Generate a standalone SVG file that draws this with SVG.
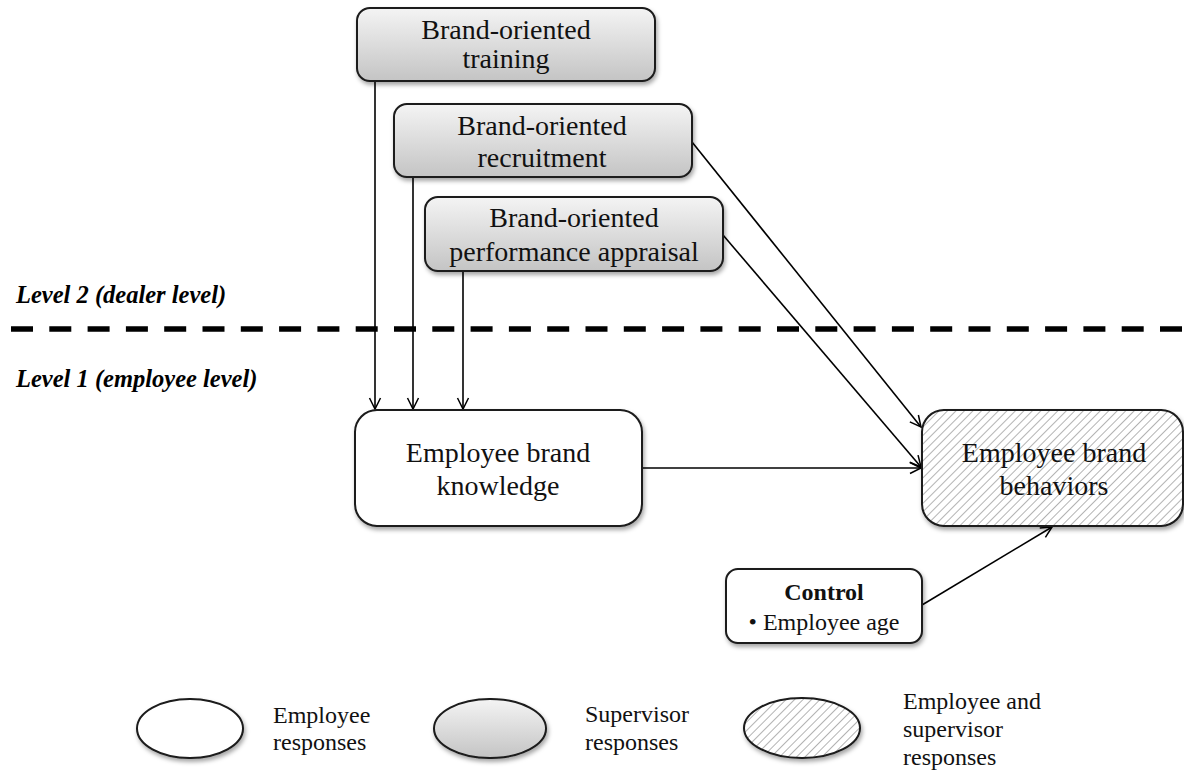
<svg xmlns="http://www.w3.org/2000/svg" width="1184" height="771" viewBox="0 0 1184 771">
  <defs>
    <linearGradient id="grayFill" x1="0" y1="0" x2="0" y2="1">
      <stop offset="0" stop-color="#f4f4f4"/>
      <stop offset="1" stop-color="#c4c4c4"/>
    </linearGradient>
    <pattern id="hatch" patternUnits="userSpaceOnUse" width="6" height="6" patternTransform="rotate(45)">
      <rect width="6" height="6" fill="#ffffff"/>
      <line x1="0" y1="0" x2="0" y2="6" stroke="#a0a0a0" stroke-width="1.6"/>
    </pattern>
    <filter id="shadow" x="-10%" y="-10%" width="125%" height="140%">
      <feDropShadow dx="1.5" dy="3" stdDeviation="2" flood-color="#000" flood-opacity="0.35"/>
    </filter>
    <marker id="arrow" markerUnits="userSpaceOnUse" markerWidth="14" markerHeight="14" viewBox="0 0 14 14" refX="12" refY="7" orient="auto">
      <path d="M1,1.5 L12,7 L1,12.5" fill="none" stroke="#000" stroke-width="1.5"/>
    </marker>
    <style>
      .box { stroke: #1a1a1a; stroke-width: 2; filter: url(#shadow); }
      .sup { fill: url(#grayFill); }
      .emp { fill: #ffffff; }
      .both { fill: url(#hatch); }
      .lbl { font-family: "Liberation Serif", "Times New Roman", serif; font-size: 28px; fill: #111; text-anchor: middle; }
      .ctl { font-family: "Liberation Serif", "Times New Roman", serif; font-size: 24px; fill: #111; text-anchor: middle; }
      .leg { font-family: "Liberation Serif", "Times New Roman", serif; font-size: 24px; fill: #111; }
      .lvl { font-family: "Liberation Serif", "Times New Roman", serif; font-size: 24.5px; font-weight: bold; font-style: italic; fill: #000; }
      .conn line { stroke: #000; stroke-width: 1.6; marker-end: url(#arrow); }
    </style>
  </defs>

  <rect width="1184" height="771" fill="#ffffff"/>

  <!-- level divider -->
  <g id="levels">
    <text class="lvl" x="16" y="303">Level 2 (dealer level)</text>
    <line x1="11" y1="329" x2="1184" y2="329" stroke="#000" stroke-width="5.5" stroke-dasharray="22 16.3"/>
    <text class="lvl" x="16" y="387">Level 1 (employee level)</text>
  </g>

  <!-- connectors -->
  <g id="connectors" class="conn">
    <line x1="375" y1="82" x2="375" y2="409"/>
    <line x1="413" y1="178" x2="413" y2="409"/>
    <line x1="463" y1="272" x2="463" y2="409"/>
    <line x1="692" y1="142" x2="921" y2="427"/>
    <line x1="723" y1="235" x2="921" y2="467"/>
    <line x1="642" y1="468" x2="921" y2="468"/>
    <line x1="922" y1="605" x2="1052" y2="527"/>
  </g>

  <g id="training">
    <rect class="box sup" x="357" y="8" width="298" height="73" rx="13"/>
    <text class="lbl" x="506" y="39">Brand-oriented</text>
    <text class="lbl" x="506" y="68">training</text>
  </g>

  <g id="recruitment">
    <rect class="box sup" x="394" y="104" width="298" height="73" rx="13"/>
    <text class="lbl" x="542" y="135">Brand-oriented</text>
    <text class="lbl" x="542" y="167">recruitment</text>
  </g>

  <g id="appraisal">
    <rect class="box sup" x="425" y="197" width="298" height="74" rx="13"/>
    <text class="lbl" x="574" y="227">Brand-oriented</text>
    <text class="lbl" x="574" y="261">performance appraisal</text>
  </g>

  <g id="knowledge">
    <rect class="box emp" x="355" y="410" width="287" height="116" rx="22"/>
    <text class="lbl" x="498" y="462">Employee brand</text>
    <text class="lbl" x="498" y="495">knowledge</text>
  </g>

  <g id="behaviors">
    <rect class="box both" x="922" y="410" width="261" height="116" rx="22"/>
    <text class="lbl" x="1054" y="462">Employee brand</text>
    <text class="lbl" x="1054" y="495">behaviors</text>
  </g>

  <g id="control">
    <rect class="box emp" x="726" y="569" width="196" height="74" rx="12"/>
    <text class="ctl" x="824" y="600" font-weight="bold">Control</text>
    <text class="ctl" x="824" y="630">• Employee age</text>
  </g>

  <!-- legend -->
  <g id="legend-employee">
    <ellipse class="box emp" cx="190" cy="728.5" rx="53" ry="29.5"/>
    <text class="leg" x="273" y="723">Employee</text>
    <text class="leg" x="273" y="750">responses</text>
  </g>

  <g id="legend-supervisor">
    <ellipse class="box sup" cx="490" cy="728.5" rx="56" ry="29.5"/>
    <text class="leg" x="585" y="722">Supervisor</text>
    <text class="leg" x="585" y="750">responses</text>
  </g>

  <g id="legend-both">
    <ellipse class="box both" cx="802" cy="728" rx="58" ry="30"/>
    <text class="leg" x="903" y="709">Employee and</text>
    <text class="leg" x="903" y="737">supervisor</text>
    <text class="leg" x="903" y="765">responses</text>
  </g>
</svg>
